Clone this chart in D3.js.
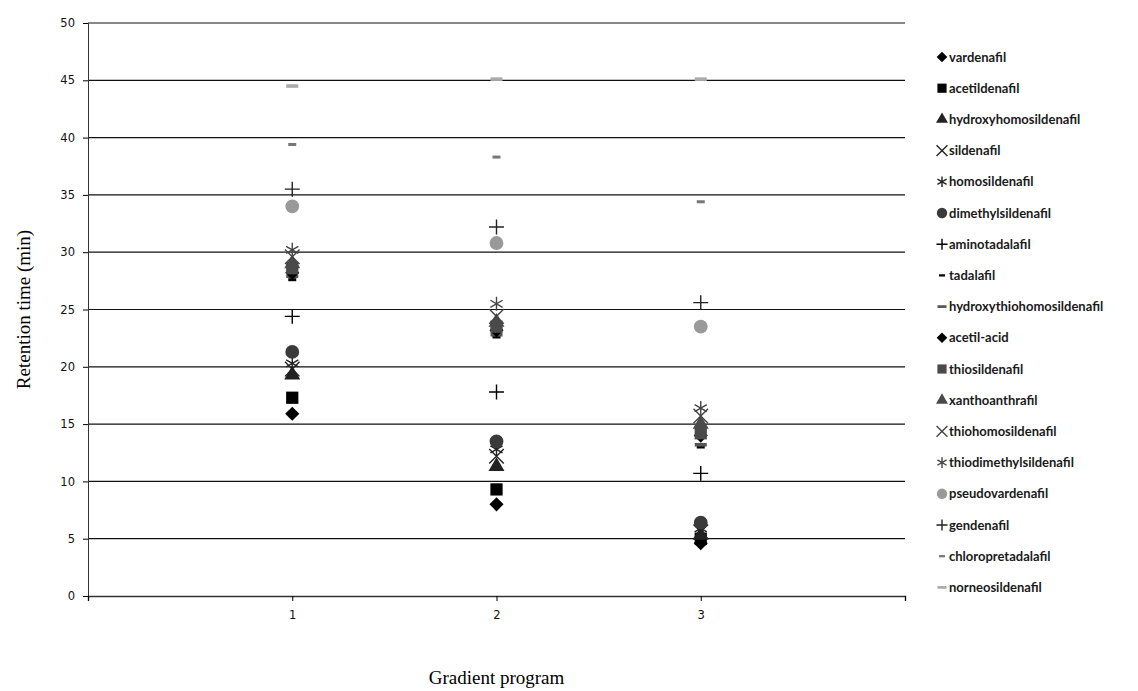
<!DOCTYPE html>
<html>
<head>
<meta charset="utf-8">
<script src="https://cdn.jsdelivr.net/npm/d3@7"></script>
<style>
  body { margin: 0; background: white; }
</style>
</head>
<body>
<div class="canvas"></div>
<script>
// gradient programs on the x axis
const gradients = [1, 2, 3];
const yTicks = [0, 5, 10, 15, 20, 25, 30, 35, 40, 45, 50];

// compounds, in legend order
const compounds = ["vardenafil", "acetildenafil", "hydroxyhomosildenafil", "sildenafil",
  "homosildenafil", "dimethylsildenafil", "aminotadalafil", "tadalafil",
  "hydroxythiohomosildenafil", "acetil-acid", "thiosildenafil", "xanthoanthrafil",
  "thiohomosildenafil", "thiodimethylsildenafil", "pseudovardenafil", "gendenafil",
  "chloropretadalafil", "norneosildenafil"];

// retention time (min) for gradient 1, 2, 3
const retention = [
  [15.9, 8.0, 4.6],
  [17.3, 9.3, 5.0],
  [19.3, 11.3, 5.3],
  [19.8, 12.2, 5.6],
  [20.3, 12.8, 5.9],
  [21.3, 13.5, 6.4],
  [24.4, 17.8, 10.7],
  [27.6, 22.6, 13.0],
  [27.9, 22.8, 13.2],
  [28.2, 23.2, 14.0],
  [28.6, 23.5, 14.2],
  [29.0, 23.9, 15.0],
  [29.6, 24.4, 15.7],
  [30.2, 25.5, 16.4],
  [34.0, 30.8, 23.5],
  [35.5, 32.2, 25.6],
  [39.4, 38.3, 34.4],
  [44.5, 45.1, 45.1]
];

// marker kind and colour per compound
const markers = ["diamond", "square", "triangle", "times", "asterisk", "circle", "plus", "dash",
  "longdash", "diamond", "square", "triangle", "times", "asterisk", "circle", "plus", "dash", "longdash"];
const colors = ["#000", "#000", "#222", "#222", "#222", "#3a3a3a", "#000", "#000",
  "#555", "#000", "#4a4a4a", "#4a4a4a", "#444", "#444", "#999", "#222", "#777", "#aaa"];

const W = 1138, H = 691;
const margin = {top: 23, bottom: 95, left: 88, right: 233};

const svg = d3.select('.canvas')
  .append('svg')
    .attr('width', W)
    .attr('height', H)
    .style("background-color", "white");

const x = d3.scaleLinear().domain([0, 4]).range([margin.left, W - margin.right]);
const y = d3.scaleLinear().domain([0, 50]).range([H - margin.bottom, margin.top]);

// gridlines
svg.append("g")
  .selectAll("line")
  .data(yTicks.filter(d => d > 0))
  .enter()
  .append("line")
    .attr("x1", x(0))
    .attr("x2", x(4))
    .attr("y1", d => y(d))
    .attr("y2", d => y(d))
    .attr("stroke", "#111")
    .attr("stroke-width", 1.2);

// y axis
const yAxis = svg.append("g")
  .attr("transform", `translate(${x(0)},0)`)
  .call(d3.axisLeft(y).tickValues(yTicks).tickSize(5).tickPadding(8));
yAxis.select(".domain").attr("stroke", "#333");
yAxis.selectAll("text")
  .style("font-family", "'DejaVu Sans', sans-serif")
  .style("font-size", "11.5px")
  .style("fill", "#111");

// x axis
const xAxis = svg.append("g")
  .attr("transform", `translate(0,${y(0)})`)
  .call(d3.axisBottom(x).tickValues([0, 1, 2, 3, 4]).tickSize(5).tickPadding(10)
    .tickFormat(d => gradients.includes(d) ? d : ""));
xAxis.select(".domain").attr("stroke", "#333").attr("stroke-width", 1.4);
xAxis.selectAll("text")
  .style("font-family", "'DejaVu Sans', sans-serif")
  .style("font-size", "11.5px")
  .style("fill", "#111");

// axis titles
svg.append("text")
  .attr("transform", `translate(30,${(y(0) + y(50)) / 2}) rotate(-90)`)
  .attr("text-anchor", "middle")
  .style("font-family", "'Liberation Serif', serif")
  .style("font-size", "19px")
  .text("Retention time (min)");

svg.append("text")
  .attr("x", x(2))
  .attr("y", 684)
  .attr("text-anchor", "middle")
  .style("font-family", "'Liberation Serif', serif")
  .style("font-size", "19px")
  .text("Gradient program");

// marker drawing
function drawMarker(g, kind, color, s) {
  if (kind === "dash") {
    g.append("rect").attr("x", -4 * s).attr("y", -1.5 * s).attr("width", 8 * s).attr("height", 3 * s).attr("fill", color);
  } else if (kind === "longdash") {
    g.append("rect").attr("x", -6 * s).attr("y", -1.8 * s).attr("width", 12 * s).attr("height", 3.6 * s).attr("fill", color);
  } else if (kind === "times" || kind === "asterisk" || kind === "plus") {
    const sym = kind === "times" ? d3.symbolTimes : kind === "plus" ? d3.symbolPlus : d3.symbolAsterisk;
    const size = kind === "plus" ? 75 : 140;
    g.append("path")
      .attr("d", d3.symbol().type(sym).size(size * s * s)())
      .attr("fill", "none")
      .attr("stroke", color)
      .attr("stroke-width", 1.4);
  } else if (kind === "diamond") {
    // excel style diamond: a square turned 45 degrees
    g.append("path")
      .attr("d", d3.symbol().type(d3.symbolSquare).size(100 * s * s)())
      .attr("transform", "rotate(45)")
      .attr("fill", color);
  } else {
    const sym = {square: d3.symbolSquare, triangle: d3.symbolTriangle, circle: d3.symbolCircle}[kind];
    const size = {square: 150, triangle: 110, circle: 150}[kind];
    g.append("path")
      .attr("d", d3.symbol().type(sym).size(size * s * s)())
      .attr("fill", color);
  }
}

// points
compounds.forEach((name, i) => {
  retention[i].forEach((v, j) => {
    const g = svg.append("g")
      .attr("transform", `translate(${x(gradients[j])},${y(v)})`);
    drawMarker(g, markers[i], colors[i], 1);
  });
});

// legend
const legend = svg.append("g");
compounds.forEach((name, i) => {
  const ly = 57 + i * 31.2;
  const g = legend.append("g").attr("transform", `translate(942,${ly})`);
  drawMarker(g, markers[i], colors[i], 0.75);
  legend.append("text")
    .attr("x", 949)
    .attr("y", ly)
    .attr("dy", "0.35em")
    .style("font-family", "Lato, sans-serif")
    .style("font-size", "13px")
    .style("font-weight", "bold")
    .style("fill", "#1a1a1a")
    .text(name);
});
</script>
</body>
</html>
